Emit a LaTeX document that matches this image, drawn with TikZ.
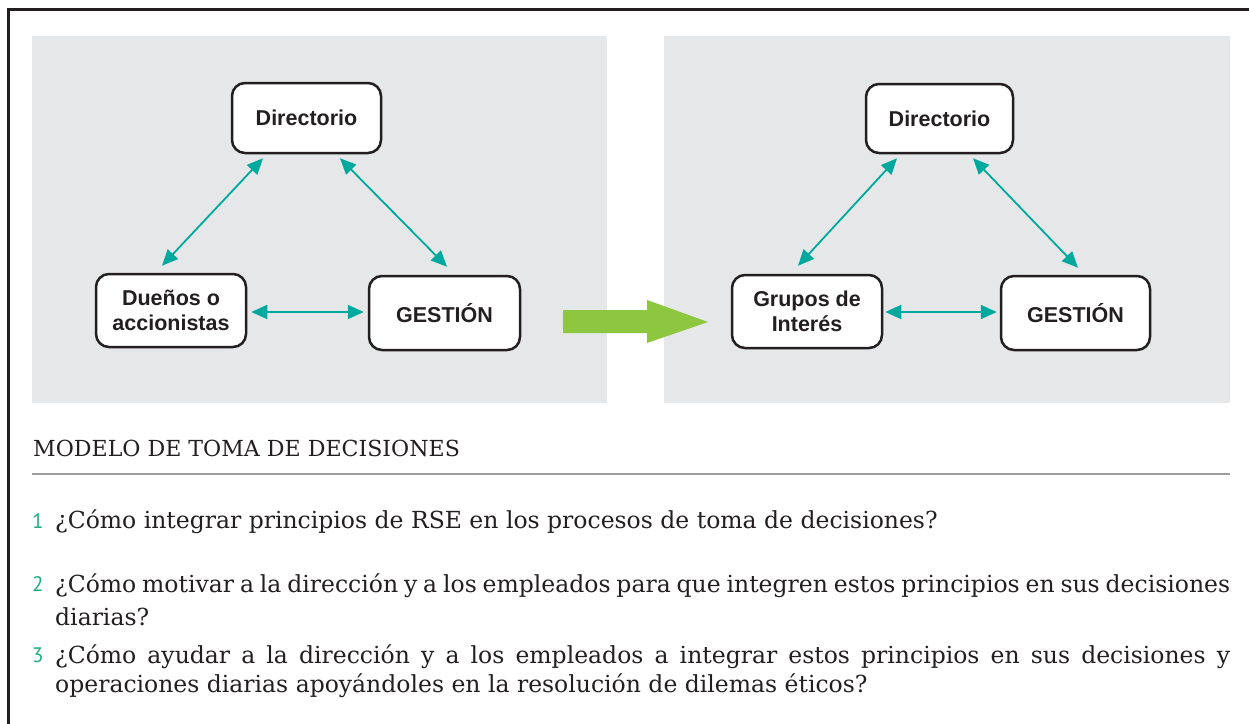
\documentclass[tikz,border=0pt]{standalone}
\usepackage{fontspec}
\setmainfont{DejaVu Serif}
\newfontfamily\boxfont{Liberation Sans}
\newfontfamily\numfont{PT Sans}
\usetikzlibrary{arrows.meta}
\definecolor{framecol}{HTML}{231F20}
\definecolor{panelcol}{HTML}{E6E7E8}
\definecolor{tealcol}{HTML}{00A99D}
\definecolor{limecol}{HTML}{8DC63F}
\definecolor{numcol}{HTML}{1FAF7E}
\definecolor{rulecol}{HTML}{9D9D9D}
\definecolor{textcol}{HTML}{231F20}
\tikzset{
  box/.style={draw=framecol, fill=white, line width=2.5pt, rounded corners=13pt,
    font=\boxfont\bfseries\fontsize{21.5}{25}\selectfont, text=textcol, align=center, inner sep=0pt},
  conn/.style={draw=tealcol, line width=1.8pt,
    {Triangle[length=16pt,width=14pt]}-{Triangle[length=16pt,width=14pt]}},
  bodytext/.style={anchor=base west, inner sep=0pt, text=textcol,
    font=\fontsize{23.5}{27}\selectfont},
  numtext/.style={anchor=base west, inner sep=0pt, text=numcol,
    font=\numfont\fontsize{21}{22}\selectfont},
}
\begin{document}
\begin{tikzpicture}[x=1pt,y=-1pt]
\path[use as bounding box] (0,0) rectangle (1249,723);
\fill[white] (0,0) rectangle (1249,723);
\draw[framecol, line width=2.7pt] (8.3,724) -- (8.3,9.6) -- (1250,9.6);
% panels
\fill[panelcol] (32,36) rectangle (607,403);
\fill[panelcol] (664,36) rectangle (1230,403);
% left diagram
\node[box, minimum width=149pt, minimum height=70pt] (dirL) at (306.5,118) {Directorio};
\node[box, minimum width=150pt, minimum height=73pt] (duenos) at (171,310.5) {Dueños o\\accionistas};
\node[box, minimum width=151pt, minimum height=74pt] (gestL) at (444.5,313) {GESTIÓN};
\draw[conn] ([xshift=-43.5pt,yshift=-4pt]dirL.south) -- ([xshift=-9pt,yshift=7pt]duenos.north);
\draw[conn] ([xshift=33.5pt,yshift=-4pt]dirL.south) -- ([xshift=2.5pt,yshift=8pt]gestL.north);
\draw[conn] ([xshift=4pt,yshift=-1.5pt]duenos.east) -- ([xshift=-4pt,yshift=1pt]gestL.west);
% right diagram
\node[box, minimum width=147pt, minimum height=69pt] (dirR) at (939.5,118.5) {Directorio};
\node[box, minimum width=150pt, minimum height=73pt] (grupos) at (807,311.5) {Grupos de\\Interés};
\node[box, minimum width=149pt, minimum height=74pt] (gestR) at (1075.5,313) {GESTIÓN};
\draw[conn] ([xshift=-42.5pt,yshift=-4pt]dirR.south) -- ([xshift=-9pt,yshift=8pt]grupos.north);
\draw[conn] ([xshift=33.5pt,yshift=-4pt]dirR.south) -- ([xshift=2.5pt,yshift=7pt]gestR.north);
\draw[conn] ([xshift=2pt,yshift=-0.5pt]grupos.east) -- ([xshift=-3pt,yshift=1pt]gestR.west);
% big green arrow
\fill[limecol] (563,310) -- (647,310) -- (647,300) -- (708,322) -- (647,343) -- (647,333) -- (563,333) -- cycle;
% title and rule
\node[anchor=base west, inner sep=0pt, text=textcol, font=\fontsize{22.1}{27}\selectfont] (title) at (33,456) {MODELO DE TOMA DE DECISIONES};
\draw[rulecol, line width=2.5pt] (32,474) -- (1230,474);
% items
\node[numtext] (n1) at (32,528) {1};
\node[bodytext] (q1) at (55,528) {¿Cómo integrar principios de RSE en los procesos de toma de decisiones?};
\node[numtext] (n2) at (32,591) {2};
\node[bodytext] (q2a) at (55,592) {\makebox[1175pt][s]{¿Cómo motivar a la dirección y a los empleados para que integren estos principios en sus decisiones}};
\node[bodytext] (q2b) at (55,625) {diarias?};
\node[numtext] (n3) at (32,662) {3};
\node[bodytext] (q3a) at (55,663) {\makebox[1175pt][s]{¿Cómo ayudar a la dirección y a los empleados a integrar estos principios en sus decisiones y}};
\node[bodytext] (q3b) at (55,692) {operaciones diarias apoyándoles en la resolución de dilemas éticos?};
\end{tikzpicture}
\end{document}
